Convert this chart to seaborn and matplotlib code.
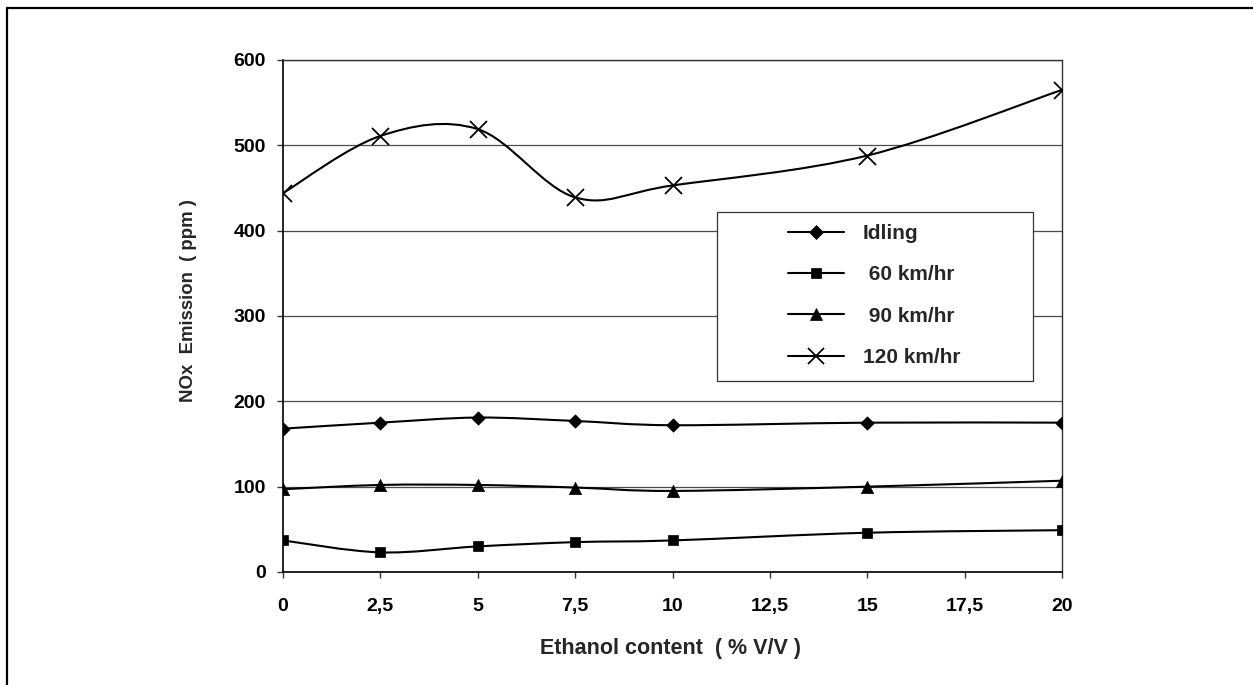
import numpy as np
import pandas as pd
import matplotlib
matplotlib.use("Agg")
import matplotlib.pyplot as plt
from matplotlib.path import Path
from matplotlib.patches import PathPatch, Rectangle
from matplotlib.lines import Line2D
import seaborn as sns

# Ethanol blend (% V/V) and NOx emission (ppm) per driving condition
ethanol = [0, 2.5, 5, 7.5, 10, 15, 20]
idling = [168, 175, 181, 177, 172, 175, 175]
kmh_60 = [37, 23, 30, 35, 37, 46, 49]
kmh_90 = [97, 102, 102, 99, 95, 100, 107]
kmh_120 = [444, 511, 519, 439, 453, 488, 565]

series_labels = ["Idling", " 60 km/hr", " 90 km/hr", "120 km/hr"]
x_ticks = [0, 2.5, 5, 7.5, 10, 12.5, 15, 17.5, 20]
x_tick_labels = ["0", "2,5", "5", "7,5", "10", "12,5", "15", "17,5", "20"]
y_ticks = [0, 100, 200, 300, 400, 500, 600]

sns.set_theme(style="white")
plt.rcParams["font.family"] = ["Liberation Sans", "DejaVu Sans"]
plt.rcParams["font.weight"] = "bold"

TICK_FS = 14.0
XLAB_FS = 15.5
YLAB_FS = 13.4
LEG_FS = 15.0
W, H = 1253, 685

fig = plt.figure(figsize=(W / 100, H / 100), dpi=100)
fig.patch.set_facecolor("white")
ax = fig.add_axes([283 / W, 1 - 572 / H, 779 / W, 512 / H])

frames = []
for name, vals in zip(series_labels, [idling, kmh_60, kmh_90, kmh_120]):
    frames.append(pd.DataFrame({"ethanol": ethanol, "nox": vals, "series": name}))
df = pd.concat(frames, ignore_index=True)


def smooth_path(xs, ys):
    """Piecewise cubic Bezier through the points (Catmull-Rom tangents)."""
    pts = np.column_stack([xs, ys]).astype(float)
    n = len(pts)
    verts = [pts[0]]
    codes = [Path.MOVETO]
    for i in range(n - 1):
        p0 = pts[max(i - 1, 0)]
        p1 = pts[i]
        p2 = pts[i + 1]
        p3 = pts[min(i + 2, n - 1)]
        verts += [p1 + (p2 - p0) / 6, p2 - (p3 - p1) / 6, p2]
        codes += [Path.CURVE4] * 3
    return Path(verts, codes)


styles = {
    "Idling": dict(marker="D", s=46, ms=6.8, lw=0.5),
    " 60 km/hr": dict(marker="s", s=62, ms=7.9, lw=0.5),
    " 90 km/hr": dict(marker="^", s=78, ms=8.8, lw=0.5),
    "120 km/hr": dict(marker="x", s=150, ms=12.2, lw=1.3),
}

for name in series_labels:
    sub = df[df["series"] == name]
    ax.add_patch(PathPatch(smooth_path(sub["ethanol"], sub["nox"]),
                           facecolor="none", edgecolor="black", lw=1.5,
                           zorder=2.5))
    st = styles[name]
    sns.scatterplot(data=sub, x="ethanol", y="nox", marker=st["marker"],
                    s=st["s"], color="black", edgecolor="black",
                    linewidth=st["lw"], ax=ax, zorder=3, legend=False)

ax.set_xlim(0, 20)
ax.set_ylim(0, 600)
ax.set_xticks(x_ticks)
ax.set_xticklabels(x_tick_labels)
ax.set_yticks(y_ticks)
ax.set_yticklabels([str(v) for v in y_ticks])

ax.yaxis.grid(True, color="#4d4d4d", lw=0.9)
ax.xaxis.grid(False)
ax.set_axisbelow(True)

for side in ["left", "bottom"]:
    ax.spines[side].set_color("black")
    ax.spines[side].set_linewidth(1.2)
for side in ["top", "right"]:
    ax.spines[side].set_color("#333333")
    ax.spines[side].set_linewidth(1.0)

ax.tick_params(axis="both", which="major", direction="out", length=4.5,
               width=1.0, color="#333333", labelsize=TICK_FS,
               labelcolor="black")
ax.tick_params(axis="y", pad=8, left=True)
ax.tick_params(axis="x", pad=14, bottom=True)
for lab in ax.get_xticklabels() + ax.get_yticklabels():
    lab.set_fontweight("bold")

ax.set_xlabel("Ethanol content  ( % V/V )", fontsize=XLAB_FS, fontweight="bold")
ax.set_ylabel("NOx  Emission  ( ppm )", fontsize=YLAB_FS, fontweight="bold")
ax.xaxis.set_label_coords((671 - 283) / 779, (572 - 638) / 512)
ax.yaxis.set_label_coords((197 - 283) / 779, (572 - 301) / 512)

# Legend box with white fill over the gridlines
ax.add_patch(Rectangle(((717 - 283) / 779, (572 - 381) / 512),
                       (1033 - 717) / 779, (381 - 212) / 512,
                       transform=ax.transAxes, facecolor="white",
                       edgecolor="#333333", lw=0.9, zorder=4, clip_on=False))

handles = [Line2D([], [], color="black", lw=1.5, marker=styles[n]["marker"],
                  markersize=styles[n]["ms"], markeredgewidth=styles[n]["lw"],
                  markerfacecolor="black", markeredgecolor="black")
           for n in series_labels]
leg = ax.legend(handles, series_labels, loc="upper left",
                bbox_to_anchor=((788 - 283) / 779, (572 - 224) / 512),
                frameon=False, borderpad=0, borderaxespad=0,
                handlelength=2.7, handletextpad=0.9, labelspacing=1.07,
                prop={"size": LEG_FS, "weight": "bold"})
leg.set_zorder(5)

# Outer chart border (left and top edges)
fig.add_artist(Line2D([7 / W, 7 / W], [0, 1 - 7.5 / H],
                      transform=fig.transFigure, color="black", lw=1.6))
fig.add_artist(Line2D([7 / W, 1], [1 - 7.5 / H, 1 - 7.5 / H],
                      transform=fig.transFigure, color="black", lw=1.6))

fig.savefig("out.png", dpi=100, facecolor="white")
